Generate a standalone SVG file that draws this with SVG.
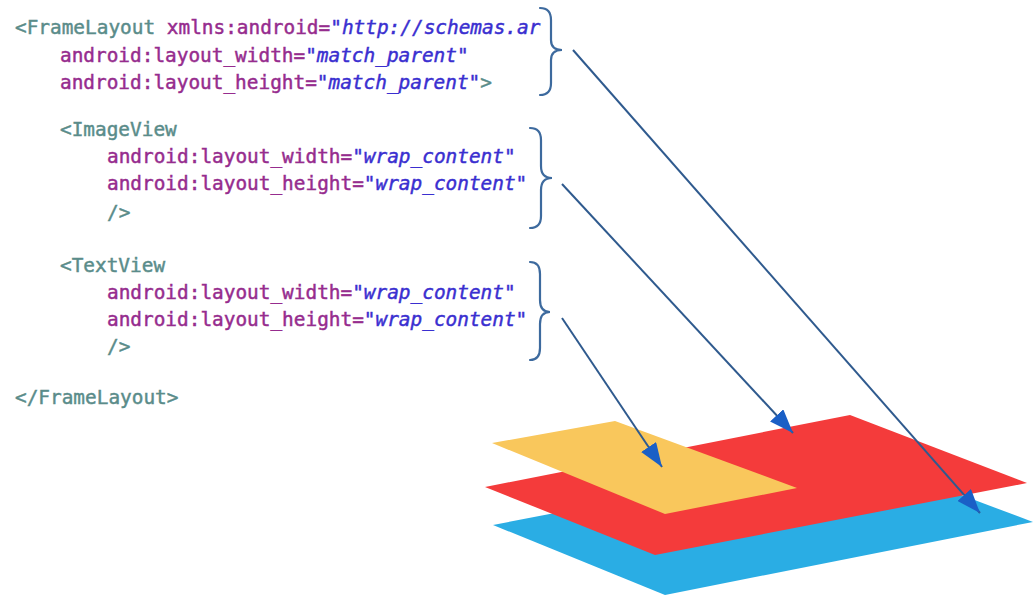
<svg xmlns="http://www.w3.org/2000/svg" width="1034" height="600" viewBox="0 0 1034 600">
<style>
text{font-family:"DejaVu Sans Mono","Liberation Mono",monospace;font-size:19.4px;stroke-width:0.45px;}
.tag{fill:#5a8c8a;stroke:#5a8c8a;}
.attr{fill:#962c8e;stroke:#962c8e;}
.val{fill:#3a2fd0;stroke:#3a2fd0;font-style:italic;}
.brace{fill:none;stroke:#3d6a9e;stroke-width:2.2;stroke-linecap:round;}
.conn{stroke:#2f5a8e;stroke-width:2;fill:none;}
</style>
<defs>
<marker id="ah" markerUnits="userSpaceOnUse" markerWidth="26" markerHeight="18" refX="24" refY="9" orient="auto">
<path d="M0,0 L24,9 L0,18 Z" fill="#1a5fc6"/>
</marker>
</defs>
<rect width="1034" height="600" fill="#ffffff"/>
<g id="planes">
<polygon id="plane-frame" points="493,525 855,455 1033,522 665,595" fill="#2aade4"/>
<polygon id="plane-image" points="485,487 850,415 1027,483 655,555" fill="#f43b3b"/>
<polygon id="plane-text" points="492,443 615,421 797,488 665,514" fill="#f9c75c"/>
</g>
<g id="node-framelayout">
<text x="15" y="34"><tspan class="tag">&lt;FrameLayout</tspan> <tspan class="attr">xmlns:android=</tspan><tspan class="val">"http://schemas.ar</tspan></text>
<text x="60" y="62"><tspan class="attr">android:layout_width=</tspan><tspan class="val">"match_parent"</tspan></text>
<text x="60" y="89"><tspan class="attr">android:layout_height=</tspan><tspan class="val">"match_parent"</tspan><tspan class="tag">&gt;</tspan></text>
<text x="15" y="404" class="tag">&lt;/FrameLayout&gt;</text>
<path class="brace" d="M540,8 Q551,8 551,20 L551,40 Q551,50 562,50 Q551,50 551,60 L551,83 Q551,95 540,95"/>
</g>
<g id="node-imageview">
<text x="60" y="136" class="tag">&lt;ImageView</text>
<text x="107" y="163"><tspan class="attr">android:layout_width=</tspan><tspan class="val">"wrap_content"</tspan></text>
<text x="107" y="190"><tspan class="attr">android:layout_height=</tspan><tspan class="val">"wrap_content"</tspan></text>
<text x="107" y="219" class="tag">/&gt;</text>
<path class="brace" d="M530,128 Q541,128 541,140 L541,166 Q541,178 552,178 Q541,178 541,190 L541,216 Q541,228 530,228"/>
</g>
<g id="node-textview">
<text x="60" y="272" class="tag">&lt;TextView</text>
<text x="107" y="299"><tspan class="attr">android:layout_width=</tspan><tspan class="val">"wrap_content"</tspan></text>
<text x="107" y="326"><tspan class="attr">android:layout_height=</tspan><tspan class="val">"wrap_content"</tspan></text>
<text x="107" y="353" class="tag">/&gt;</text>
<path class="brace" d="M530,262 Q540,262 540,274 L540,300 Q540,312 550,312 Q540,312 540,324 L540,348 Q540,360 530,360"/>
</g>
<g id="connectors">
<line class="conn" x1="573" y1="50" x2="980" y2="513" marker-end="url(#ah)"/>
<line class="conn" x1="562" y1="184" x2="793" y2="433" marker-end="url(#ah)"/>
<line class="conn" x1="562" y1="318" x2="662" y2="467" marker-end="url(#ah)"/>
</g>
</svg>
